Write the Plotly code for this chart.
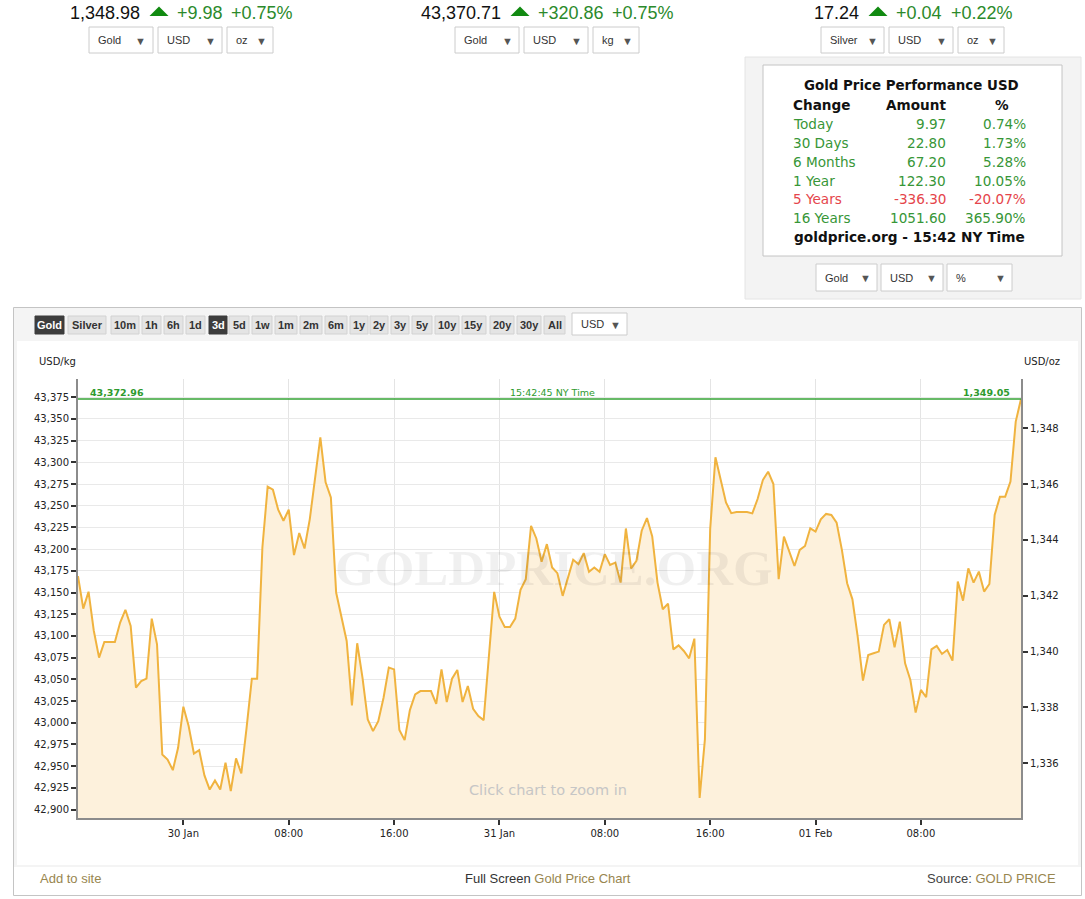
import plotly.graph_objects as go
import pandas as pd

W, H = 1085, 899
OZ_PER_KG = 32.1507466

# ---------------- data ----------------
price_usd_kg = [
    43169.0, 43131.5, 43151.0, 43106.0, 43075.0, 43093.0, 43093.0, 43093.0, 43115.4, 43130.0,
    43111.5, 43040.4, 43048.0, 43050.8, 43120.0, 43090.4, 42963.5, 42957.7, 42945.4, 42971.2,
    43018.5, 42996.2, 42964.6, 42968.5, 42939.3, 42923.1, 42933.5, 42923.1, 42953.9, 42921.2,
    42958.9, 42941.6, 42994.2, 43050.8, 43050.8, 43201.9, 43271.9, 43268.5, 43245.4, 43232.7,
    43245.4, 43193.1, 43218.5, 43200.8, 43234.6, 43281.5, 43328.8, 43276.9, 43259.6, 43150.0,
    43123.1, 43094.2, 43020.0, 43091.6, 43051.9, 43003.9, 42990.4, 43001.9, 43028.9, 43063.5,
    43061.5, 42991.6, 42980.0, 43014.6, 43032.7, 43036.5, 43036.5, 43036.5, 43021.9, 43061.5,
    43023.9, 43050.8, 43060.8, 43023.9, 43042.3, 43016.2, 43007.7, 43003.1, 43076.9, 43150.8,
    43122.3, 43110.4, 43110.4, 43120.0, 43153.1, 43165.4, 43226.9, 43212.3, 43185.4, 43205.8,
    43178.9, 43172.3, 43146.2, 43166.2, 43187.7, 43182.7, 43195.4, 43173.9, 43178.9, 43173.9,
    43194.2, 43181.9, 43184.6, 43161.5, 43223.8, 43177.7, 43186.5, 43221.2, 43235.8, 43214.6,
    43161.5, 43130.8, 43137.3, 43084.6, 43089.2, 43082.7, 43074.2, 43096.9, 42913.5, 42980.8,
    43223.1, 43305.8, 43278.8, 43253.9, 43241.5, 43242.7, 43242.7, 43242.7, 43241.2, 43257.7,
    43279.6, 43289.2, 43275.0, 43165.4, 43214.5, 43197.2, 43180.6, 43199.1, 43203.7, 43224.0,
    43220.2, 43234.4, 43240.6, 43239.4, 43230.6, 43199.1, 43160.7, 43142.2, 43099.2, 43048.6,
    43078.1, 43080.0, 43082.0, 43112.7, 43119.2, 43087.0, 43116.5, 43068.5, 43049.3, 43011.7,
    43037.8, 43029.4, 43084.6, 43088.5, 43079.3, 43083.9, 43071.6, 43162.6, 43140.7, 43177.9,
    43161.4, 43174.1, 43151.1, 43159.9, 43239.4, 43260.5, 43260.5, 43277.8, 43346.9, 43372.96,
]
start_time = "2018-01-29 16:00"
sample_step = "24min"

x_tick_times = ["2018-01-30 00:00", "2018-01-30 08:00", "2018-01-30 16:00",
                "2018-01-31 00:00", "2018-01-31 08:00", "2018-01-31 16:00",
                "2018-02-01 00:00", "2018-02-01 08:00"]
x_tick_labels = ["30 Jan", "08:00", "16:00", "31 Jan", "08:00", "16:00", "01 Feb", "08:00"]

current_kg = 43372.96
current_kg_label = "43,372.96"
current_oz_label = "1,349.05"
current_time_label = "15:42:45 NY Time"
y_range_kg = [42890.3, 43396.0]

ticker_values = ["1,348.98", "43,370.71", "17.24"]
ticker_changes = ["+9.98", "+320.86", "+0.04"]
ticker_pcts = ["+0.75%", "+0.75%", "+0.22%"]
ticker_selects = [["Gold", "USD", "oz"], ["Gold", "USD", "kg"], ["Silver", "USD", "oz"]]

perf_title = "Gold Price Performance USD"
perf_headers = ["Change", "Amount", "%"]
perf_periods = ["Today", "30 Days", "6 Months", "1 Year", "5 Years", "16 Years"]
perf_amounts = ["9.97", "22.80", "67.20", "122.30", "-336.30", "1051.60"]
perf_percents = ["0.74%", "1.73%", "5.28%", "10.05%", "-20.07%", "365.90%"]
perf_footer = "goldprice.org - 15:42 NY Time"
perf_selects = ["Gold", "USD", "%"]

metal_buttons = ["Gold", "Silver"]
range_buttons = ["10m", "1h", "6h", "1d", "3d", "5d", "1w", "1m", "2m", "6m",
                 "1y", "2y", "3y", "5y", "10y", "15y", "20y", "30y", "All"]
active_buttons = ["Gold", "3d"]

# ---------------- helpers ----------------
def X(px):
    return px / W


def Y(py):
    return 1 - py / H


shapes = []
annotations = []

SANS = "Liberation Sans, Arial, sans-serif"
VERD = "DejaVu Sans, Verdana, sans-serif"
GREEN_T = "#2b8a2b"
GREEN_P = "#379637"
RED_P = "#e5454b"
GOLD_T = "#98864f"


def rect(x0, y0, x1, y1, fill, line=None, lw=1, layer="below"):
    shapes.append(dict(type="rect", xref="paper", yref="paper",
                       x0=X(x0), x1=X(x1), y0=Y(y1), y1=Y(y0),
                       fillcolor=fill, layer=layer,
                       line=dict(color=line if line else fill, width=lw if line else 0)))


def tri(x0, x1, ytop, ybot, color):
    xm = (x0 + x1) / 2
    shapes.append(dict(type="path", xref="paper", yref="paper",
                       path=f"M {X(x0)},{Y(ybot)} L {X(x1)},{Y(ybot)} L {X(xm)},{Y(ytop)} Z",
                       fillcolor=color, line=dict(width=0)))


def text(x, y, s, size=11, color="#333", family=SANS, anchor="left"):
    annotations.append(dict(xref="paper", yref="paper", x=X(x), y=Y(y), text=s,
                            showarrow=False, xanchor=anchor, yanchor="middle",
                            borderpad=0, font=dict(family=family, size=size, color=color)))


def dropdown(x0, x1, y0, y1, label, size=11):
    rect(x0, y0, x1, y1, "#ffffff", "#cccccc", 1)
    text(x0 + 8, (y0 + y1) / 2, label, size=size, color="#333")
    text(x1 - 12, (y0 + y1) / 2 + 0.5, "▼", size=11, color="#555", anchor="center")


# ---------------- top tickers ----------------
ticker_layout = [  # value right edge, triangle x0, change left, pct left
    (140.5, 149.5, 176, 230),
    (501.5, 510.5, 537, 611),
    (859.5, 868.5, 895, 950),
]
select_layout = [
    [(89, 153), (158, 222), (227, 273)],
    [(455, 519), (524, 588), (593, 639)],
    [(821, 884), (889, 953), (958, 1004)],
]
for i in range(3):
    vr, tx, cl, pl = ticker_layout[i]
    text(vr, 13, ticker_values[i], size=18, color="#111", anchor="right")
    tri(tx, tx + 19, 6.5, 16, "#118a11")
    text(cl, 13, ticker_changes[i], size=18, color=GREEN_T)
    text(pl, 13, ticker_pcts[i], size=18, color=GREEN_T)
    for (a, b), lab in zip(select_layout[i], ticker_selects[i]):
        dropdown(a, b, 27, 53, lab)

# ---------------- performance panel ----------------
rect(745, 57, 1081, 299, "#f3f3f3", "#e4e4e4", 1)
rect(763, 65, 1062, 256, "#ffffff", "#c4c4c4", 1)
text(911, 86, f"<b>{perf_title}</b>", size=13.4, color="#111", family=VERD, anchor="center")
text(792, 105, f"<b>{perf_headers[0]}</b>", size=13.6, color="#111", family=VERD)
text(947, 105, f"<b>{perf_headers[1]}</b>", size=13.6, color="#111", family=VERD, anchor="right")
text(1002, 105, f"<b>{perf_headers[2]}</b>", size=13.6, color="#111", family=VERD, anchor="center")
row_y = [124, 143, 161.7, 180.7, 199.3, 218.3]
for per, amt, pct, yy in zip(perf_periods, perf_amounts, perf_percents, row_y):
    col = RED_P if amt.startswith("-") else GREEN_P
    text(792, yy, per, size=13.6, color=col, family=VERD)
    text(947, yy, amt, size=13.6, color=col, family=VERD, anchor="right")
    text(1027, yy, pct, size=13.6, color=col, family=VERD, anchor="right")
text(909, 237.3, f"<b>{perf_footer}</b>", size=13.7, color="#111", family=VERD, anchor="center")
for (a, b), lab in zip([(816, 877), (881, 943), (947, 1012)], perf_selects):
    dropdown(a, b, 264, 291, lab)

# ---------------- chart frame ----------------
rect(13.5, 307.5, 1081.5, 895.5, "#ffffff", "#c4c4c4", 1)
rect(14, 308, 1081, 867, "#f4f4f4")
rect(17, 341, 1078, 865, "#ffffff")

button_pos = [(35, 64), (68, 106),
              (111, 139), (142, 161), (164, 183), (186, 205), (209, 227), (229, 249),
              (252, 272), (275, 297), (300, 322), (325, 347), (350, 368), (370, 388),
              (391, 409), (412, 432), (435, 459), (462, 486), (490, 514), (517, 541), (544, 565)]
for lab, (a, b) in zip(metal_buttons + range_buttons, button_pos):
    active = lab in active_buttons
    rect(a, 316, b, 334, "#3d3d3d" if active else "#e4e4e4",
         "#3d3d3d" if active else "#d2d2d2", 1)
    text((a + b) / 2, 325.5, f"<b>{lab}</b>", size=11,
         color="#ffffff" if active else "#333", anchor="center")
dropdown(572, 627, 313, 335, "USD")

# ---------------- chart ----------------
times = pd.date_range(start=start_time, periods=len(price_usd_kg), freq=sample_step)
price_usd_oz = [v / OZ_PER_KG for v in price_usd_kg]

fig = go.Figure()
fig.add_trace(go.Scatter(x=times, y=price_usd_kg, mode="lines",
                         line=dict(color="#f0b33f", width=2),
                         fill="tozeroy", fillcolor="#fdf1dc",
                         hoverinfo="skip", showlegend=False))
fig.add_trace(go.Scatter(x=times, y=price_usd_oz, yaxis="y2", mode="lines",
                         line=dict(color="rgba(0,0,0,0)", width=0),
                         hoverinfo="skip", showlegend=False))

shapes.append(dict(type="line", xref="paper", yref="y", x0=X(78), x1=X(1021),
                   y0=current_kg, y1=current_kg, line=dict(color="#35a335", width=1.5)))
text(89, 392.5, f"<b>{current_kg_label}</b>", size=9.5, color="#2e9a2e", family=VERD)
text(1011, 392.5, f"<b>{current_oz_label}</b>", size=9.5, color="#2e9a2e", family=VERD, anchor="right")
text(552, 392.5, current_time_label, size=9.5, color="#2e9a2e", family=VERD, anchor="center")

text(38, 361.5, "USD/kg", size=10, color="#222", family=VERD)
text(1023, 361.5, "USD/oz", size=10, color="#222", family=VERD)

text(554, 568, "<b>GOLDPRICE.ORG</b>", size=51, color="rgba(0,0,0,0.06)",
     family="Liberation Serif, Times New Roman, serif", anchor="center")
text(548, 790, "Click chart to zoom in", size=14.5, color="#c6c6c6", family=VERD, anchor="center")

# ---------------- footer ----------------
text(39, 878.5, "Add to site", size=13, color=GOLD_T)
text(548, 878.5, f"<span style='color:#333'>Full Screen</span> Gold Price Chart",
     size=13, color=GOLD_T, anchor="center")
text(1057, 878.5, f"<span style='color:#444'>Source:</span> GOLD PRICE",
     size=13, color=GOLD_T, anchor="right")

axis_common = dict(showline=True, linecolor="#8c8c8c", linewidth=2,
                   ticks="outside", ticklen=5, tickwidth=2, tickcolor="#333",
                   tickfont=dict(family=VERD, size=10, color="#222"),
                   zeroline=False, fixedrange=True)

fig.update_layout(
    width=W, height=H, autosize=False,
    margin=dict(l=0, r=0, t=0, b=0, pad=0),
    paper_bgcolor="#ffffff", plot_bgcolor="rgba(0,0,0,0)",
    showlegend=False,
    xaxis=dict(domain=[X(78), X(1021)], type="date",
               range=[times[0], times[-1]],
               tickmode="array", tickvals=x_tick_times, ticktext=x_tick_labels,
               showgrid=True, gridcolor="#e4e4e4", gridwidth=1, **axis_common),
    yaxis=dict(domain=[Y(818), Y(379)], range=y_range_kg,
               tick0=0, dtick=25, tickformat=",d",
               showgrid=True, gridcolor="#e9e9e9", gridwidth=1, **axis_common),
    yaxis2=dict(overlaying="y", side="right", anchor="x",
                range=[v / OZ_PER_KG for v in y_range_kg],
                tick0=0, dtick=2, tickformat=",d", showgrid=False, **axis_common),
    shapes=shapes,
    annotations=annotations,
)

fig.write_html("out.html", config={"displayModeBar": False, "staticPlot": False},
               post_script="document.body.style.margin='0';document.body.style.overflow='hidden';")
